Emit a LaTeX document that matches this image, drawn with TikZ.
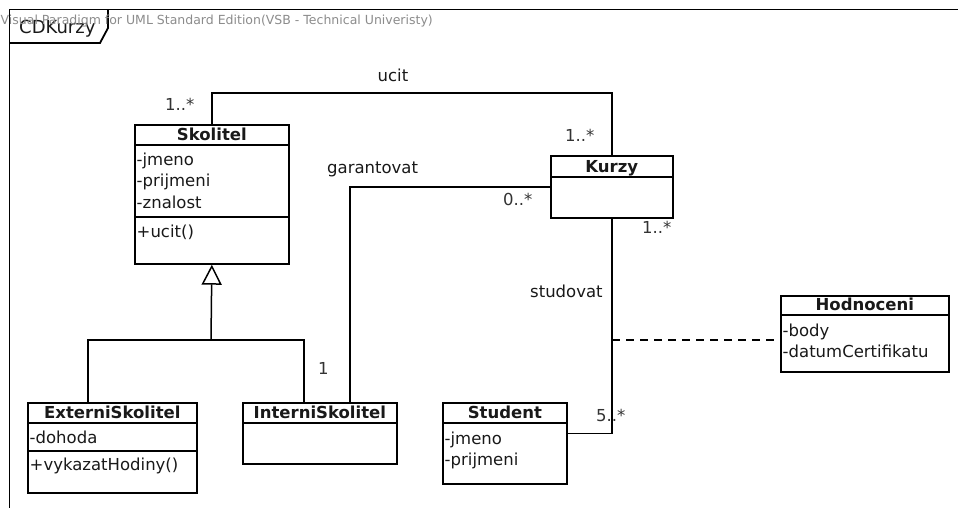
\documentclass[tikz,border=0pt]{standalone}
\usepackage{fontspec}
\setmainfont{DejaVu Sans}
\usetikzlibrary{arrows.meta}

\begin{document}
\begin{tikzpicture}[
    x=1pt, y=-1pt,
    every node/.style={font=\fontsize{16.5}{21.5}\selectfont, inner sep=0pt, text=black!90},
    umlclass/.style 2 args={rectangle, draw, line width=1.7pt, anchor=north west, minimum width=#1, minimum height=#2},
    clstitle/.style={anchor=base, font=\fontsize{16.5}{21.5}\selectfont\bfseries},
    members/.style={anchor=base west, align=left},
    sepline/.style={line width=1.5pt},
    assoc/.style={line width=1.5pt},
    gen/.style={line width=1.5pt, -{Triangle[open, length=20pt, width=20pt]}},
    mult/.style={anchor=base west, text=black!80},
    diagframe/.style={line width=1.8pt}
]
\useasboundingbox (0,0) rectangle (958,508);
\fill[white] (0,0) rectangle (958,508);

% --- Ramec diagramu
\draw[diagframe] (9.5,508) -- (9.5,9.5) -- (958,9.5);
\draw[diagframe] (9.5,43) -- (100,43) -- (108,28) -- (108,9.5);
\node[anchor=base west, font=\fontsize{18}{20}\selectfont] (cdkurzy) at (19,34) {CDKurzy};
\node[anchor=base west, font=\fontsize{12.5}{14}\selectfont, text=black!45] (vp) at (0.5,25)
    {Visual Paradigm for UML Standard Edition(VSB - Technical Univeristy)};

% --- Tridy
\node[umlclass={154pt}{139pt}] (skolitel) at (134,124) {};
\node[umlclass={122pt}{62pt}] (kurzy) at (550,155) {};
\node[umlclass={169pt}{90pt}] (externi) at (27,402) {};
\node[umlclass={154pt}{61pt}] (interni) at (242,402) {};
\node[umlclass={124pt}{81pt}] (student) at (442,402) {};
\node[umlclass={168pt}{76pt}] (hodnoceni) at (780,295) {};

% Skolitel
\draw[sepline] ([yshift=-21pt]skolitel.north west) -- ([yshift=-21pt]skolitel.north east);
\draw[sepline] ([yshift=-93pt]skolitel.north west) -- ([yshift=-93pt]skolitel.north east);
\node[clstitle] (skolitelT) at ([yshift=-17pt]skolitel.north) {Skolitel};
\node[members] (skolitelA) at ([xshift=2.5pt, yshift=-84pt]skolitel.north west) {-jmeno\\-prijmeni\\-znalost};
\node[members] (skolitelO) at ([xshift=2.5pt, yshift=-113pt]skolitel.north west) {+ucit()};

% Kurzy
\draw[sepline] ([yshift=-22pt]kurzy.north west) -- ([yshift=-22pt]kurzy.north east);
\node[clstitle] (kurzyT) at ([yshift=-17pt]kurzy.north) {Kurzy};

% ExterniSkolitel
\draw[sepline] ([yshift=-21pt]externi.north west) -- ([yshift=-21pt]externi.north east);
\draw[sepline] ([yshift=-49pt]externi.north west) -- ([yshift=-49pt]externi.north east);
\node[clstitle] (externiT) at ([yshift=-16pt]externi.north) {ExterniSkolitel};
\node[members] (externiA) at ([xshift=2.5pt, yshift=-41pt]externi.north west) {-dohoda};
\node[members] (externiO) at ([xshift=2.5pt, yshift=-68pt]externi.north west) {+vykazatHodiny()};

% InterniSkolitel
\draw[sepline] ([yshift=-21pt]interni.north west) -- ([yshift=-21pt]interni.north east);
\node[clstitle] (interniT) at ([yshift=-16pt]interni.north) {InterniSkolitel};

% Student
\draw[sepline] ([yshift=-21pt]student.north west) -- ([yshift=-21pt]student.north east);
\node[clstitle] (studentT) at ([yshift=-16pt]student.north) {Student};
\node[members] (studentA) at ([xshift=2.5pt, yshift=-63.5pt]student.north west) {-jmeno\\-prijmeni};

% Hodnoceni
\draw[sepline] ([yshift=-20pt]hodnoceni.north west) -- ([yshift=-20pt]hodnoceni.north east);
\node[clstitle] (hodnoceniT) at ([yshift=-15pt]hodnoceni.north) {Hodnoceni};
\node[members] (hodnoceniA) at ([xshift=2.5pt, yshift=-62.5pt]hodnoceni.north west) {-body\\-datumCertifikatu};

% --- Generalizace
\coordinate (genjoin) at (211,340);
\draw[gen] (genjoin) -- (skolitel.south);
\draw[assoc] ([xshift=61pt]externi.north west) |- (genjoin) -| ([xshift=62pt]interni.north west);

% --- Asociace
\draw[assoc] (skolitel.north) -- ++(0,-31) -| (kurzy.north);
\draw[assoc] (kurzy.west) -| ([xshift=108pt]interni.north west);
\draw[assoc] (kurzy.south) |- ([yshift=10pt]student.east);

% asociacni trida
\coordinate (assocpt) at (612,340);
\draw[assoc, dash pattern=on 8pt off 6pt] (assocpt) -- (assocpt -| hodnoceni.west);

% --- Popisky
\node[anchor=base] (lucit) at (393,82) {ucit};
\node[mult] (m1) at (165,111) {1..*};
\node[mult] (m2) at (565,142) {1..*};
\node[anchor=base west] (lgarant) at (327,173) {garantovat};
\node[mult] (m3) at (503,205) {0..*};
\node[mult] (m4) at (318,374) {1};
\node[mult] (m5) at (642,233) {1..*};
\node[anchor=base west] (lstud) at (530,297) {studovat};
\node[mult] (m6) at (596,421) {5..*};

\end{tikzpicture}
\end{document}
